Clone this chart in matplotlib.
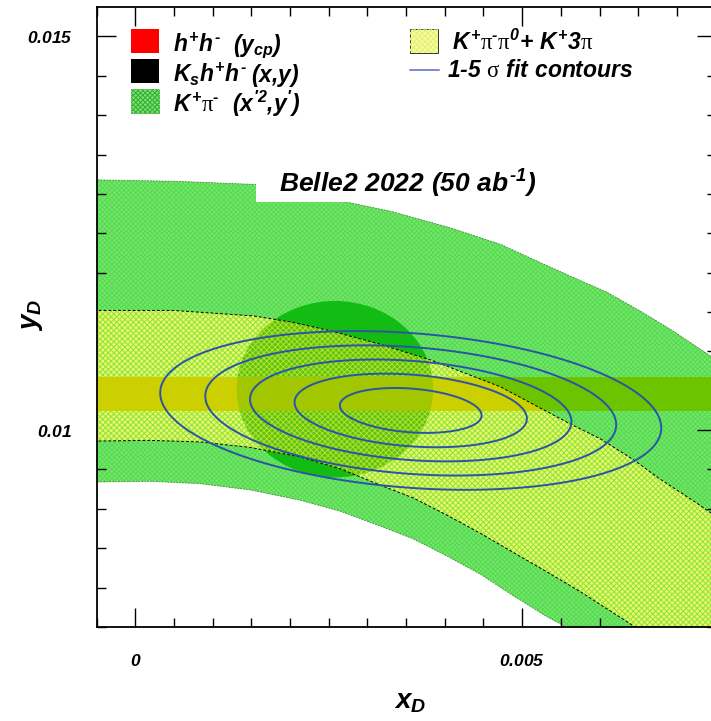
import numpy as np
import matplotlib
matplotlib.use("Agg")
import matplotlib.pyplot as plt
from matplotlib.patches import Polygon, Ellipse, Rectangle
from matplotlib.lines import Line2D
from matplotlib.ticker import MultipleLocator, FuncFormatter

plt.rcParams.update({
    "font.family": ["Liberation Sans", "DejaVu Sans"],
    "mathtext.fontset": "custom",
    "mathtext.rm": "Liberation Sans:bold:italic",
    "mathtext.it": "Liberation Sans:bold:italic",
    "mathtext.bf": "Liberation Sans:bold:italic",
    "mathtext.sf": "Liberation Serif",
    "hatch.linewidth": 0.7,
})

# ---------------- measurements ----------------
# K+pi- band in (x', y') mapped onto (xD, yD): upper and lower edges
kpi_hi_x = [-0.00060, 0.00053, 0.00156, 0.00213, 0.00271, 0.00330, 0.00407, 0.00472,
            0.00523, 0.00566, 0.00610, 0.00653, 0.00695, 0.00730, 0.00769]
kpi_hi_y = [0.01318, 0.01316, 0.01312, 0.01303, 0.01290, 0.01278, 0.01257, 0.01236,
            0.01213, 0.01194, 0.01175, 0.01151, 0.01126, 0.01103, 0.01077]
kpi_lo_x = [-0.00060, 0.00019, 0.00084, 0.00149, 0.00213, 0.00265, 0.00317, 0.00359,
            0.00403, 0.00446, 0.00488, 0.00532, 0.00553, 0.00588]
kpi_lo_y = [0.00934, 0.00935, 0.00932, 0.00924, 0.00911, 0.00897, 0.00878, 0.00862,
            0.00840, 0.00817, 0.00790, 0.00763, 0.00752, 0.00729]

# K+pi-pi0 + K+3pi band: upper and lower edges
kpp_hi_x = [-0.00060, 0.00050, 0.00153, 0.00203, 0.00253, 0.00317, 0.00385, 0.00472,
            0.00558, 0.00601, 0.00643, 0.00678, 0.00717, 0.00744, 0.00769]
kpp_hi_y = [0.01152, 0.01152, 0.01145, 0.01137, 0.01126, 0.01109, 0.01088, 0.01055,
            0.01010, 0.00989, 0.00963, 0.00938, 0.00913, 0.00895, 0.00878]
kpp_lo_x = [-0.00060, 0.00019, 0.00084, 0.00149, 0.00213, 0.00265, 0.00317, 0.00359,
            0.00403, 0.00446, 0.00488, 0.00532, 0.00575, 0.00643, 0.00678]
kpp_lo_y = [0.00986, 0.00987, 0.00985, 0.00978, 0.00966, 0.00951, 0.00930, 0.00914,
            0.00892, 0.00869, 0.00845, 0.00820, 0.00795, 0.00752, 0.00729]

# h+h- (y_CP) band
ycp_range = [0.01024, 0.01068]

# Ks h+h- (x, y) region: centre and half-widths
ks_centre = [0.00258, 0.01052]
ks_halfwidth = [0.00127, 0.00112]

# combined fit: central values, uncertainties, correlation
fit_centre = [0.00356, 0.01025]
fit_sigma = [0.000604, 0.000188]
fit_rho = -0.22
fit_dchi2 = [2.30, 6.18, 11.83, 19.33, 28.74]   # 1-5 sigma for 2 parameters

x_major, x_minor = 0.005, 0.0005
y_major, y_minor = 0.005, 0.0005

# ---------------- colours ----------------
GREEN = "#70e868"
GREEN_HATCH = "#5ad854"
YELLOW = "#e8fa5c"
YELLOW_HATCH = "#8ee04c"
KS_GREEN = "#12bc12"
KS_IN_YELLOW = "#5cc40c"
KS_IN_YELLOW_HATCH = "#b4e034"
YCP_ON_GREEN = "#6cc400"
YCP_ON_YELLOW = "#cccf00"
YCP_ON_KS = "#a2c600"
CONTOUR = "#2a55a6"

fig = plt.figure(figsize=(7.11, 7.21), dpi=100)
ax = fig.add_axes([0.1359, 0.1304, 0.8705, 0.8595])
ax.set_xlim(-0.0005, 0.0075)
ax.set_ylim(0.0075, 0.01537)

xr, yr = ax.get_xlim(), ax.get_ylim()
beyond = (xr[1] + (xr[1] - xr[0]), yr[0] - (yr[1] - yr[0]))


def band_vertices(hx, hy, lx, ly):
    upper = list(zip(hx, hy))
    lower = list(zip(lx, ly))[::-1]
    return upper + [beyond] + lower


# K+pi- band
kpi_poly = Polygon(band_vertices(kpi_hi_x, kpi_hi_y, kpi_lo_x, kpi_lo_y), closed=True,
                   facecolor=GREEN, edgecolor=GREEN_HATCH, hatch="xxxxxxx",
                   linewidth=0, zorder=1)
ax.add_patch(kpi_poly)
for bx, by in ((kpi_hi_x, kpi_hi_y), (kpi_lo_x, kpi_lo_y)):
    ax.plot(bx, by, color="#2f6f2f", lw=0.6, ls=(0, (2, 1.5)), alpha=0.8, zorder=1.5)

# Ks h+h- region
ks = Ellipse(ks_centre, 2 * ks_halfwidth[0], 2 * ks_halfwidth[1],
             facecolor=KS_GREEN, linewidth=0, zorder=2)
ax.add_patch(ks)

# K+pi-pi0 + K+3pi band
kpp_poly = Polygon(band_vertices(kpp_hi_x, kpp_hi_y, kpp_lo_x, kpp_lo_y), closed=True,
                   facecolor=YELLOW, edgecolor=YELLOW_HATCH, hatch="xxxxxx",
                   linewidth=0, zorder=3)
ax.add_patch(kpp_poly)

ks_in_kpp = Ellipse(ks_centre, 2 * ks_halfwidth[0], 2 * ks_halfwidth[1],
                    facecolor=KS_IN_YELLOW, edgecolor=KS_IN_YELLOW_HATCH, hatch="xxxxxx",
                    linewidth=0, zorder=3.5)
ax.add_patch(ks_in_kpp)
ks_in_kpp.set_clip_path(kpp_poly)

# y_CP band, shaded according to what lies underneath
ycp_green = ax.axhspan(ycp_range[0], ycp_range[1], color=YCP_ON_GREEN, lw=0, zorder=4)
ycp_yellow = ax.axhspan(ycp_range[0], ycp_range[1], color=YCP_ON_YELLOW, lw=0, zorder=4.1)
ycp_yellow.set_clip_path(kpp_poly)
ycp_ks = ax.axhspan(ycp_range[0], ycp_range[1], color=YCP_ON_KS, lw=0, zorder=4.2)
ycp_ks.set_clip_path(ks)

# dashed edges of the K+pi-pi0 + K+3pi band
for bx, by in ((kpp_hi_x, kpp_hi_y), (kpp_lo_x, kpp_lo_y)):
    ax.plot(bx, by, color="black", lw=0.7, ls=(0, (3, 2)), zorder=5)

# fit contours
gx = np.linspace(xr[0], xr[1], 500)
gy = np.linspace(yr[0], yr[1], 500)
GX, GY = np.meshgrid(gx, gy)
u = (GX - fit_centre[0]) / fit_sigma[0]
v = (GY - fit_centre[1]) / fit_sigma[1]
chi2 = (u ** 2 - 2 * fit_rho * u * v + v ** 2) / (1 - fit_rho ** 2)
ax.contour(GX, GY, chi2, levels=fit_dchi2, colors=CONTOUR, linewidths=1.4, zorder=6)

# title on a white panel
ax.add_patch(Rectangle((0.2576, 0.6858), 0.507, 0.068, transform=ax.transAxes,
                       facecolor="white", edgecolor="none", zorder=7))
ax.text(0.003527, 0.013018, r"$Belle2\ 2022\ (50\ ab^{\text{-}1})$", ha="center",
        va="baseline", fontsize=19, zorder=8)

# legend
LFS = 16.5
box_w, box_h = 0.0452, 0.0387
rows_y = [0.9263, 0.8778, 0.8294]
ax.add_patch(Rectangle((0.0556, rows_y[0]), box_w, box_h, transform=ax.transAxes,
                       facecolor="#ff0000", edgecolor="none", zorder=9))
ax.add_patch(Rectangle((0.0556, rows_y[1]), box_w, box_h, transform=ax.transAxes,
                       facecolor="black", edgecolor="none", zorder=9))
ax.add_patch(Rectangle((0.0556, rows_y[2]), box_w, box_h, transform=ax.transAxes,
                       facecolor=GREEN, edgecolor="#3aa83a", hatch="xxxxxxx",
                       linewidth=0.6, linestyle=(0, (2, 1)), zorder=9))
ax.add_patch(Rectangle((0.5064, rows_y[0]), box_w, box_h, transform=ax.transAxes,
                       facecolor="#f6fca0", edgecolor="#333333",
                       linewidth=0.7, zorder=9))
ax.add_patch(Rectangle((0.5064, rows_y[0]), box_w, box_h, transform=ax.transAxes,
                       facecolor="none", edgecolor="#e4f070", hatch="xxxxxx",
                       linewidth=0, zorder=9.1))
ax.add_line(Line2D([0.5064, 0.5532], [0.8988, 0.8988], transform=ax.transAxes,
                   color="#5c68c4", lw=1.1, zorder=9))

HY = r"\text{-}"
tx = 0.1234
leg_texts = [
    (tx, rows_y[0], r"$h^{+}h^{%s}$" % HY),
    (0.2204, rows_y[0], r"$(y_{cp})$"),
    (tx, rows_y[1], r"$K_{s}h^{+}h^{%s}$" % HY),
    (0.2495, rows_y[1], r"$(x{,}y)$"),
    (tx, rows_y[2], r"$K^{+}\mathsf{\pi}^{%s}$" % HY),
    (0.2188, rows_y[2], r"$(x^{\prime 2}{,}y^{\prime})$"),
    (0.5742, rows_y[0] + 0.003,
     r"$K^{+}\mathsf{\pi}^{%s}\mathsf{\pi}^{0}{+}\ K^{+}3\mathsf{\pi}$" % HY),
    (0.5661, 0.8859, r"$1%s5\ \mathsf{\sigma}\ fit\ contours$" % HY),
]
for x, y, s in leg_texts:
    ax.text(x, y + 0.002, s, transform=ax.transAxes, ha="left", va="baseline",
            fontsize=LFS, zorder=10)

# axes frame and ticks
ax.xaxis.set_major_locator(MultipleLocator(x_major))
ax.xaxis.set_minor_locator(MultipleLocator(x_minor))
ax.yaxis.set_major_locator(MultipleLocator(y_major))
ax.yaxis.set_minor_locator(MultipleLocator(y_minor))
fmt = FuncFormatter(lambda val, pos: "$%g$" % round(val, 6))
ax.xaxis.set_major_formatter(fmt)
ax.yaxis.set_major_formatter(fmt)
ax.tick_params(which="both", direction="in", top=True, right=True, width=1.0,
               labelsize=12.5, colors="black")
ax.tick_params(which="major", length=13.7)
ax.tick_params(which="minor", length=6.8)
ax.tick_params(axis="x", which="major", pad=18.5)
ax.tick_params(axis="y", which="major", pad=17.5)
for s in ax.spines.values():
    s.set_linewidth(1.3)
    s.set_zorder(11)

fig.text(0.577, 0.018, r"$x_{D}$", ha="center", va="baseline", fontsize=20)
fig.text(0.045, 0.563, r"$y_{D}$", ha="center", va="center", rotation=90, fontsize=20)

fig.savefig("out.png", dpi=100)
